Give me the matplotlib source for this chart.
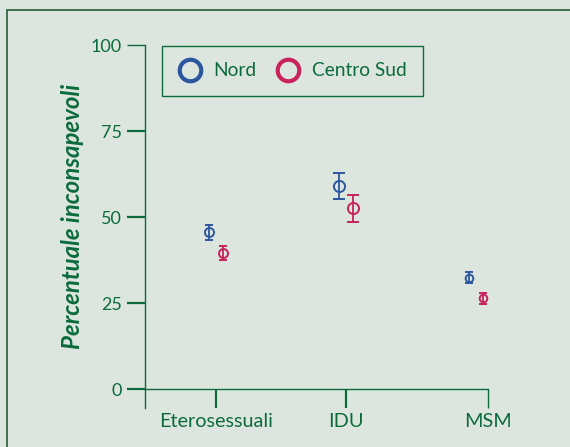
import matplotlib.pyplot as plt
from matplotlib.lines import Line2D
from matplotlib.patches import Rectangle

plt.rcParams['font.family'] = ['Lato', 'DejaVu Sans']

# data
categories = ['Eterosessuali', 'IDU', 'MSM']
groups = ['Nord', 'Centro Sud']
nord = [45.6, 59.0, 32.4]
nord_err = [2.2, 3.7, 1.6]
sud = [39.5, 52.6, 26.4]
sud_err = [2.1, 3.9, 1.6]
yticks = [0, 25, 50, 75, 100]

bg = '#dde6de'
green = '#0b6b3b'
blue = '#2b579f'
pink = '#c8235c'

fig = plt.figure(figsize=(5.7, 4.47), dpi=100, facecolor=bg)
# outer frame, right and bottom edges run off the picture
fig.patches.append(Rectangle((7/570, -0.1), 1.2, 1.1 - 10/447, transform=fig.transFigure,
                             fill=False, ec='#245c3a', lw=1.2))

ax = fig.add_axes([145/570, 39/447, 343/570, 363/447])
ax.set_facecolor('none')
ax.set_xlim(0, 5)
ax.set_ylim(-5.5, 100)

tickpos = [1.03, 2.93, 5.0]
centers = [1.03, 2.93, 4.83]
dodge = 0.1
sizes = [6.5, 8, 5.5]
caps = [3.2, 4.5, 3.2]

for i in range(len(categories)):
    ax.errorbar(centers[i] - dodge, nord[i], yerr=nord_err[i], fmt='o', color=blue,
                mfc='none', mec=blue, mew=1.4, ms=sizes[i], elinewidth=1.3,
                capsize=caps[i], capthick=1.6)
    ax.errorbar(centers[i] + dodge, sud[i], yerr=sud_err[i], fmt='o', color=pink,
                mfc='none', mec=pink, mew=1.4, ms=sizes[i], elinewidth=1.3,
                capsize=caps[i], capthick=1.6)

for s in ['top', 'right']:
    ax.spines[s].set_visible(False)
ax.spines['left'].set_bounds(-5.5, 100)
ax.spines['bottom'].set_position(('data', 0))
ax.spines['bottom'].set_bounds(0, 5)
for s in ['left', 'bottom']:
    ax.spines[s].set_color(green)
    ax.spines[s].set_linewidth(1.0)

ax.set_yticks(yticks)
ax.set_xticks(tickpos)
ax.set_xticklabels(categories)
ax.tick_params(axis='y', direction='out', length=13, width=1.6, pad=3.5,
               colors=green, labelsize=13)
ax.tick_params(axis='x', direction='out', length=13.5, width=1.6, pad=3.5,
               colors=green, labelsize=14.3)
ax.yaxis.get_major_ticks()[-1].tick1line.set_markeredgewidth(1.0)
ax.xaxis.get_major_ticks()[-1].tick1line.set_markeredgewidth(1.0)

ax.set_ylabel('Percentuale inconsapevoli', color=green, fontsize=17.3,
              fontweight='bold', fontstyle='italic', va='center')
ax.yaxis.set_label_coords((73 - 145) / 343, (408 - 216) / 363)

handles = [Line2D([], [], marker='o', ls='none', mfc='none', mec=c, mew=3, ms=15.5)
           for c in [blue, pink]]
leg = fig.legend(handles, groups, loc='upper left', bbox_to_anchor=(162/570, 1 - 46/447),
                 ncol=2, fancybox=False, edgecolor=green, facecolor=bg, framealpha=1,
                 fontsize=13.8, borderpad=0.85, handlelength=1.18, handletextpad=0.62,
                 columnspacing=1.1, borderaxespad=0)
leg.get_frame().set_linewidth(1.0)
for t in leg.get_texts():
    t.set_color(green)

fig.savefig('out.png', dpi=100, facecolor=bg)
